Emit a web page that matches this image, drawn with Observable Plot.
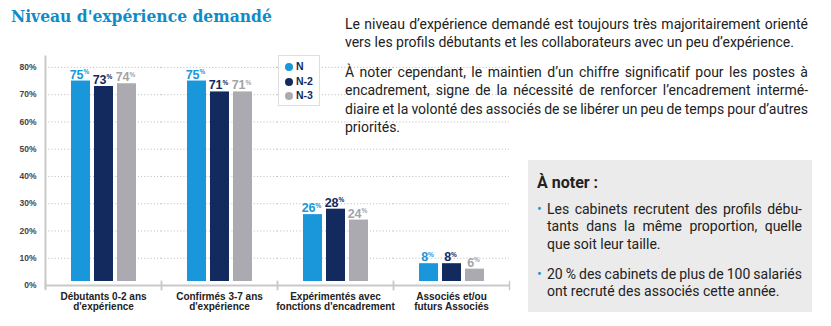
<!DOCTYPE html>
<html>
<head>
<meta charset="utf-8">
<script src="https://cdn.jsdelivr.net/npm/d3@7"></script>
<script src="https://cdn.jsdelivr.net/npm/@observablehq/plot@0.6"></script>
<style>
  html, body { margin: 0; padding: 0; background: #fff; }
  #page { position: relative; width: 831px; height: 326px; overflow: hidden; background: #fff; }
  #title { position: absolute; left: 11px; top: 6px; font-family: "DejaVu Serif Condensed", "DejaVu Serif", serif; font-weight: bold; font-size: 17.3px; color: #0f8bc9; white-space: nowrap; }
  #chart { position: absolute; left: 0; top: 50px; }
  #legend { position: absolute; left: 278px; top: 55px; width: 42px; height: 51px; border: 1px solid #dedede; box-sizing: border-box; background: #fff; font-family: "Liberation Sans Narrow", "Liberation Sans", sans-serif; font-weight: bold; font-size: 10.5px; color: #132a5e; }
  .li { position: absolute; left: 6px; height: 12px; line-height: 12px; white-space: nowrap; }
  .dot { display: inline-block; width: 8px; height: 8px; border-radius: 50%; vertical-align: -1px; margin-right: 3px; }
  .txt { position: absolute; font-family: Roboto, "Liberation Sans", sans-serif; font-size: 14px; color: #222; white-space: nowrap; line-height: 17px; }
  #box { position: absolute; left: 528px; top: 160px; width: 284px; height: 152px; background: #ebebeb; }
</style>
</head>
<body>
<div id="page">
  <div id="title">Niveau d'expérience demandé</div>
  <div id="chart"></div>
  <div id="legend"></div>
  <div id="box"></div>
  <div id="text"></div>
</div>
<script>
const categories = [
  "Débutants 0-2 ans\nd'expérience",
  "Confirmés 3-7 ans\nd'expérience",
  "Expérimentés avec\nfonctions d'encadrement",
  "Associés et/ou\nfuturs Associés"
];
const series = ["N", "N-2", "N-3"];
const valuesN  = [75, 75, 26, 8];
const valuesN2 = [73, 71, 28, 8];
const valuesN3 = [74, 71, 24, 6];
const yTicks = [0, 10, 20, 30, 40, 50, 60, 70, 80];
const colors = ["#1a97da", "#132a5e", "#aaaab0"];
const labelColors = ["#1a97da", "#132a5e", "#a3a3a8"];

const paragraph1 = [
  "Le niveau d’expérience demandé est toujours très majoritairement orienté",
  "vers les profils débutants et les collaborateurs avec un peu d’expérience."
];
const paragraph2 = [
  "À noter cependant, le maintien d’un chiffre significatif pour les postes à",
  "encadrement, signe de la nécessité de renforcer l’encadrement intermé-",
  "diaire et la volonté des associés de se libérer un peu de temps pour d’autres",
  "priorités."
];
const noteTitle = "À noter :";
const bullet1 = ["Les cabinets recrutent des profils débu-", "tants dans la même proportion, quelle", "que soit leur taille."];
const bullet2 = ["20 % des cabinets de plus de 100 salariés", "ont recruté des associés cette année."];

const allValues = [valuesN, valuesN2, valuesN3];
const data = [];
categories.forEach((c, i) => series.forEach((s, j) => data.push({category: c, series: s, value: allValues[j][i]})));

const W = 520, H = 276, MT = 6, MB = 41, ML = 43, MR = 10;
const plotH = H - MT - MB;
const gridColor = "#c9c9c9";
const labelFont = "'Liberation Sans Narrow', 'Liberation Sans', sans-serif";

function superscriptPercent(index, scales, values, dimensions, context, next) {
  const g = next(index, scales, values, dimensions, context);
  d3.select(g).selectAll("text").each(function() {
    const t = d3.select(this);
    const s = t.text();
    t.text(s.replace("%", ""));
    t.append("tspan").attr("dy", "-4.5").attr("font-size", "6.5").text("%");
  });
  return g;
}

const chart = Plot.plot({
  width: W, height: H,
  marginTop: MT, marginBottom: MB, marginLeft: ML, marginRight: MR,
  style: {fontFamily: labelFont, background: "transparent", overflow: "visible"},
  fx: {domain: categories, padding: 0, axis: null},
  x: {domain: series, paddingInner: 0.18, paddingOuter: 1.05, axis: null},
  y: {domain: [0, 84], axis: null},
  color: {domain: series, range: colors},
  marks: [
    Plot.gridY(yTicks.filter(d => d > 0), {stroke: "#a9a9a9", strokeOpacity: 1, strokeDasharray: "1,2.2", strokeWidth: 0.8}),
    Plot.barY(data, {fx: "category", x: "series", y: "value", fill: "series", insetBottom: 4}),
    Plot.text(data, {
      fx: "category", x: "series", y: "value",
      text: d => d.value + "%",
      fill: d => labelColors[series.indexOf(d.series)],
      textAnchor: "middle", lineAnchor: "bottom", dy: -2.5, dx: -1.5,
      fontSize: 12.5, fontWeight: "bold",
      render: superscriptPercent
    }),
    Plot.ruleY([0], {stroke: gridColor, strokeWidth: 2}),
    Plot.frame({anchor: "left", facetAnchor: "left", stroke: gridColor, strokeWidth: 2, insetBottom: -3}),
    Plot.frame({anchor: "left", stroke: gridColor, strokeWidth: 1.5, insetTop: plotH - 4, insetBottom: -4}),
    Plot.frame({anchor: "right", stroke: gridColor, strokeWidth: 1.5, insetTop: plotH - 4, insetBottom: -4}),
    Plot.axisY(yTicks, {tickFormat: d => d + "%", tickSize: 0, tickPadding: 9, fontSize: 8.5, fontWeight: "bold", fill: "#444", label: null}),
    Plot.axisFx({anchor: "bottom", tickSize: 0, tickPadding: 7, fontSize: 10, fontWeight: "bold", fill: "#222", lineHeight: 1.05, label: null, tickFormat: d => d})
  ]
});
document.getElementById("chart").appendChild(chart);

// legend
const legend = document.getElementById("legend");
series.forEach((s, j) => {
  const el = document.createElement("div");
  el.className = "li";
  el.style.top = (4 + j * 14.5) + "px";
  el.innerHTML = `<span class="dot" style="background:${colors[j]}"></span>${s}`;
  legend.appendChild(el);
});

// text blocks
const textRoot = document.getElementById("text");
function addLine(str, left, baseline, width, extra) {
  const el = document.createElement("div");
  el.className = "txt";
  el.style.left = left + "px";
  el.style.top = (baseline - 13.5) + "px";
  if (extra) Object.assign(el.style, extra);
  const span = document.createElement("span");
  span.textContent = str;
  el.appendChild(span);
  textRoot.appendChild(el);
  if (width) {
    const natural = span.getBoundingClientRect().width;
    const spaces = (str.match(/ /g) || []).length;
    if (spaces > 0) el.style.wordSpacing = ((width - natural) / spaces) + "px";
  } else if (extra && extra.maxWidth) {
    const natural = span.getBoundingClientRect().width;
    const mw = parseFloat(extra.maxWidth);
    const spaces = (str.match(/ /g) || []).length;
    if (natural > mw && spaces > 0) el.style.wordSpacing = ((mw - natural) / spaces) + "px";
  }
  return el;
}
function addParagraph(lines, left, baseline0, step, width, maxLast) {
  lines.forEach((l, i) => {
    const last = i === lines.length - 1;
    addLine(l, left, baseline0 + i * step, last ? null : width, last ? {maxWidth: maxLast + "px"} : null);
  });
}
addParagraph(paragraph1, 345, 29, 18.5, 463, 463);
addParagraph(paragraph2, 345, 77, 18.5, 463, 463);
addLine(noteTitle, 537, 187, null, {fontWeight: "bold", fontSize: "16px"});
addParagraph(bullet1, 547, 214, 17.5, 255, 255);
addParagraph(bullet2, 547, 279, 17.5, 255, 255);
[214, 279].forEach(b => addLine("•", 537, b, null, {color: "#1a97da"}));
</script>
</body>
</html>
